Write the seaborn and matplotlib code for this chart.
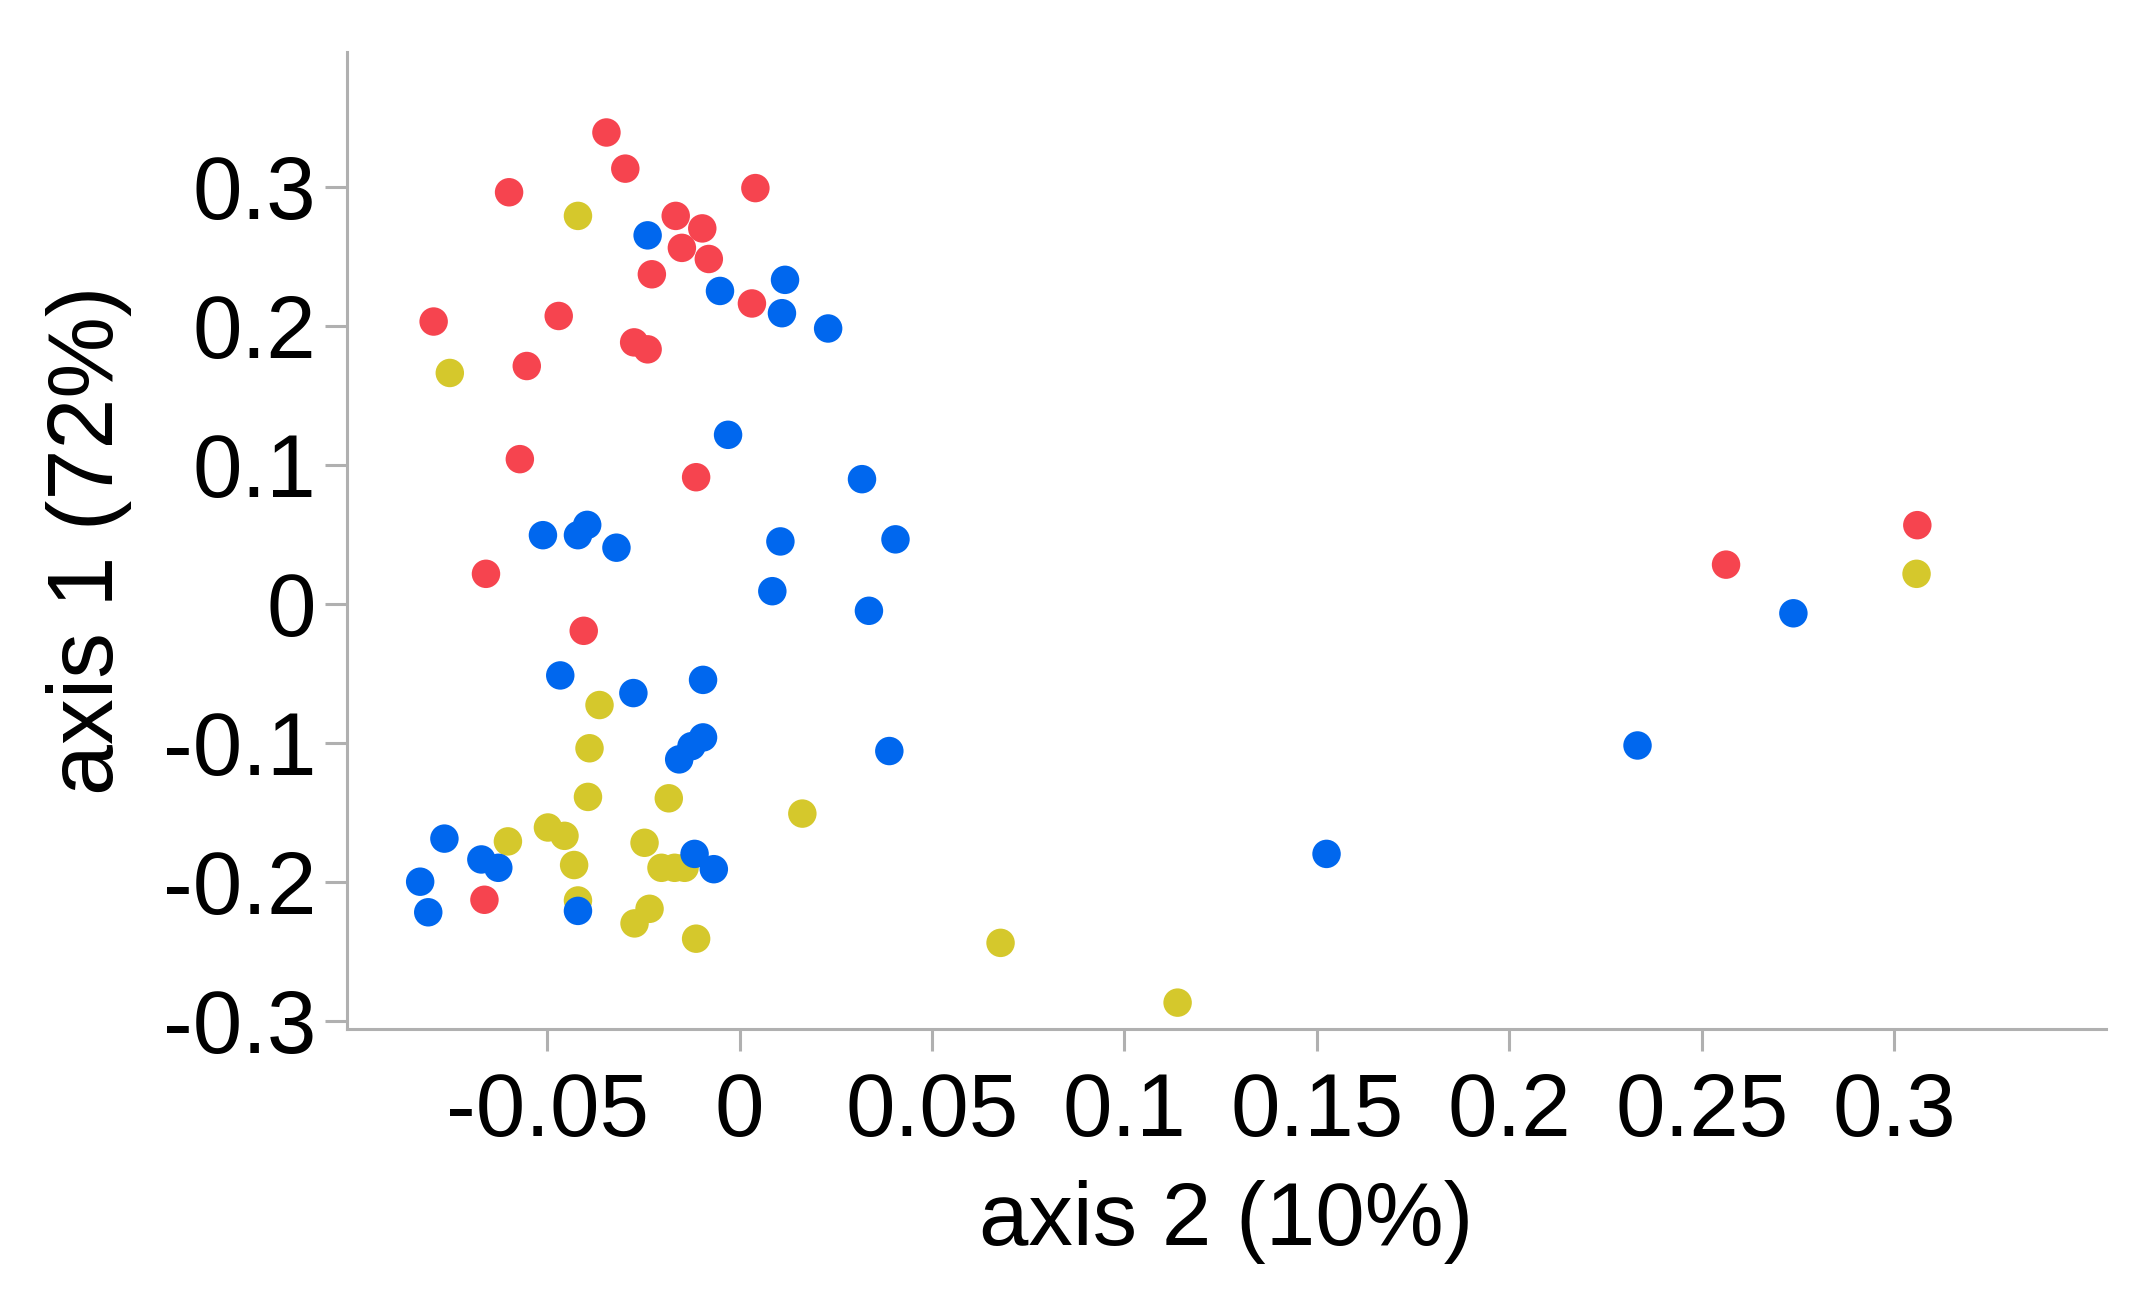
import matplotlib
matplotlib.use("Agg")
import matplotlib.pyplot as plt
import numpy as np
import pandas as pd
import seaborn as sns

# PCoA scores (axis 2 on x, axis 1 on y)
red_x = [-0.0346, -0.0297, -0.0599, 0.0041, -0.0166, -0.0097, -0.0150, -0.0080,
         -0.0228, 0.0032, -0.0795, -0.0470, -0.0274, -0.0239, -0.0553, -0.0571,
         -0.0113, -0.0659, -0.0405, -0.0663, 0.2563, 0.3060]
red_y = [0.339, 0.313, 0.296, 0.299, 0.279, 0.270, 0.256, 0.248,
         0.237, 0.216, 0.203, 0.207, 0.188, 0.183, 0.171, 0.104,
         0.091, 0.0215, -0.0195, -0.213, 0.0281, 0.0565]

blue_x = [-0.0239, 0.0118, -0.0051, 0.0110, 0.0230, -0.0030, 0.0318, -0.0511,
          -0.0420, -0.0396, -0.0320, 0.0106, 0.0405, 0.0085, 0.0336, -0.0466,
          -0.0276, -0.0095, -0.0095, -0.0125, -0.0157, 0.0389, -0.0767, -0.0671,
          -0.0627, -0.0830, -0.0809, -0.0420, -0.0117, -0.0067, 0.2738, 0.2333,
          0.1525]
blue_y = [0.265, 0.233, 0.225, 0.209, 0.198, 0.1215, 0.0896, 0.0493,
          0.0493, 0.0567, 0.0403, 0.0448, 0.0463, 0.0090, -0.0051, -0.0516,
          -0.0643, -0.0548, -0.0962, -0.1025, -0.112, -0.106, -0.169, -0.184,
          -0.190, -0.200, -0.222, -0.221, -0.180, -0.191, -0.0069, -0.102,
          -0.180]

yellow_x = [-0.0420, -0.0753, -0.0364, -0.0390, -0.0394, -0.0184, 0.0163, -0.0602,
            -0.0498, -0.0455, -0.0430, -0.0247, -0.0203, -0.0169, -0.0143, -0.0420,
            -0.0234, -0.0273, -0.0113, 0.0678, 0.1138, 0.3058]
yellow_y = [0.279, 0.166, -0.0729, -0.104, -0.139, -0.140, -0.151, -0.171,
            -0.161, -0.167, -0.188, -0.172, -0.190, -0.190, -0.190, -0.2135,
            -0.2195, -0.230, -0.241, -0.244, -0.287, 0.0215]

groups = ["red", "blue", "yellow"]
group_colors = ["#F6444F", "#0067EE", "#D5C82C"]

x_ticks = [-0.05, 0, 0.05, 0.1, 0.15, 0.2, 0.25, 0.3]
x_tick_labels = ["-0.05", "0", "0.05", "0.1", "0.15", "0.2", "0.25", "0.3"]
y_ticks = [-0.3, -0.2, -0.1, 0, 0.1, 0.2, 0.3]
y_tick_labels = ["-0.3", "-0.2", "-0.1", "0", "0.1", "0.2", "0.3"]

df = pd.concat([
    pd.DataFrame({"axis2": red_x, "axis1": red_y, "group": "red"}),
    pd.DataFrame({"axis2": yellow_x, "axis1": yellow_y, "group": "yellow"}),
    pd.DataFrame({"axis2": blue_x, "axis1": blue_y, "group": "blue"}),
], ignore_index=True)

sns.set_style("white")
plt.rcParams["font.family"] = ["Liberation Sans", "DejaVu Sans"]

fig = plt.figure(figsize=(21.33, 12.97), dpi=100)
ax = fig.add_axes([0.1627, 0.2066, 0.8246, 0.7534])

sns.scatterplot(data=df, x="axis2", y="axis1", hue="group",
                palette=dict(zip(groups, group_colors)), s=420,
                linewidth=0, legend=False, ax=ax)

ax.set_xlim(-0.102, 0.355)
ax.set_ylim(-0.306, 0.397)
ax.set_xticks(x_ticks)
ax.set_xticklabels(x_tick_labels)
ax.set_yticks(y_ticks)
ax.set_yticklabels(y_tick_labels)

for side in ["top", "right"]:
    ax.spines[side].set_visible(False)
for side in ["left", "bottom"]:
    ax.spines[side].set_color("#b0b0b0")
    ax.spines[side].set_linewidth(2.2)

ax.tick_params(axis="both", which="major", direction="out", length=16,
               width=2.2, color="#b0b0b0", labelsize=64, labelcolor="black",
               bottom=True, left=True)
ax.tick_params(axis="y", pad=6)
ax.tick_params(axis="x", pad=14)

ax.set_xlabel("axis 2 (10%)", fontsize=64, labelpad=18, color="black")
ax.set_ylabel("axis 1 (72%)", fontsize=66, labelpad=22, color="black")

fig.savefig("out.png", dpi=100, facecolor="white")
